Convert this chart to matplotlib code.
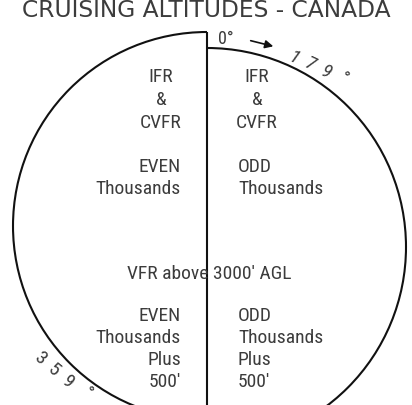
"""
Cruising altitudes diagram - Canada (hemispheric rule).
"""
import matplotlib
matplotlib.use("Agg")
import matplotlib.pyplot as plt
from matplotlib.patches import Arc, FancyArrowPatch

TITLE = "CRUISING ALTITUDES - CANADA"
LEFT_UPPER = ["IFR", "&", "CVFR"]
RIGHT_UPPER = ["IFR", "&", "CVFR"]
LEFT_MID = ["EVEN", "Thousands"]
RIGHT_MID = ["ODD", "Thousands"]
CENTER_LABEL = "VFR above 3000' AGL"
LEFT_LOW = ["EVEN", "Thousands", "Plus", "500'"]
RIGHT_LOW = ["ODD", "Thousands", "Plus", "500'"]
START_HDG = "0°"
END_RIGHT = ["1", "7", "9", "°"]
END_LEFT = ["3", "5", "9", "°"]

INK = "#111111"
TXT = "#3c3c3c"
NARROW = ["Roboto Condensed", "Liberation Sans Narrow", "DejaVu Sans"]

fig = plt.figure(figsize=(4.12, 4.06), dpi=100)
ax = fig.add_axes([0, 0, 1, 1])
ax.set_xlim(0, 412)
ax.set_ylim(406, 0)
ax.axis("off")

# two half circles, left one sits a bit higher
ax.add_patch(Arc((207, 227), 388, 388, theta1=90, theta2=270, color=INK, lw=1.5))
ax.add_patch(Arc((207, 248), 398, 398, theta1=-90, theta2=90, color=INK, lw=1.5))
ax.plot([207, 207], [33, 410], color=INK, lw=1.5, solid_capstyle="butt")

ax.text(206, 17, TITLE, ha="center", va="baseline", fontsize=16.8,
        color=TXT, family=["DejaVu Sans"])


def column(lines, x, y0, step, ha):
    for i, s in enumerate(lines):
        ax.text(x, y0 + i * step, s, ha=ha, va="center", fontsize=14,
                color=TXT, family=NARROW, fontstretch="condensed")


column(LEFT_UPPER, 161, 77, 23, "center")
column(RIGHT_UPPER, 257, 77, 23, "center")
column(LEFT_MID, 181, 167, 22, "right")
column(RIGHT_MID, 238, 167, 22, "left")
column(LEFT_LOW, 181, 316, 22, "right")
column(RIGHT_LOW, 238, 316, 22, "left")
ax.text(209, 274, CENTER_LABEL, ha="center", va="center", fontsize=14,
        color=TXT, family=NARROW, fontstretch="condensed")

# heading marks round the rim
ax.text(226, 39, START_HDG, ha="center", va="center", fontsize=13,
        color=TXT, family=NARROW, fontstretch="condensed")
ax.add_patch(FancyArrowPatch((248, 41), (276, 48), arrowstyle="-|>",
                             mutation_scale=12, color=INK, lw=1.2))
for s, (x, y) in zip(END_RIGHT, [(294, 58), (310, 64), (326, 72), (343, 79)]):
    ax.text(x, y, s, ha="center", va="center", fontsize=14, rotation=-25,
            color=TXT, family=NARROW, style="italic")
for s, (x, y) in zip(END_LEFT, [(40, 358), (54, 370), (68, 382), (87, 393)]):
    ax.text(x, y, s, ha="center", va="center", fontsize=14, rotation=-40,
            color=TXT, family=NARROW)

fig.savefig("out.png", dpi=100)
